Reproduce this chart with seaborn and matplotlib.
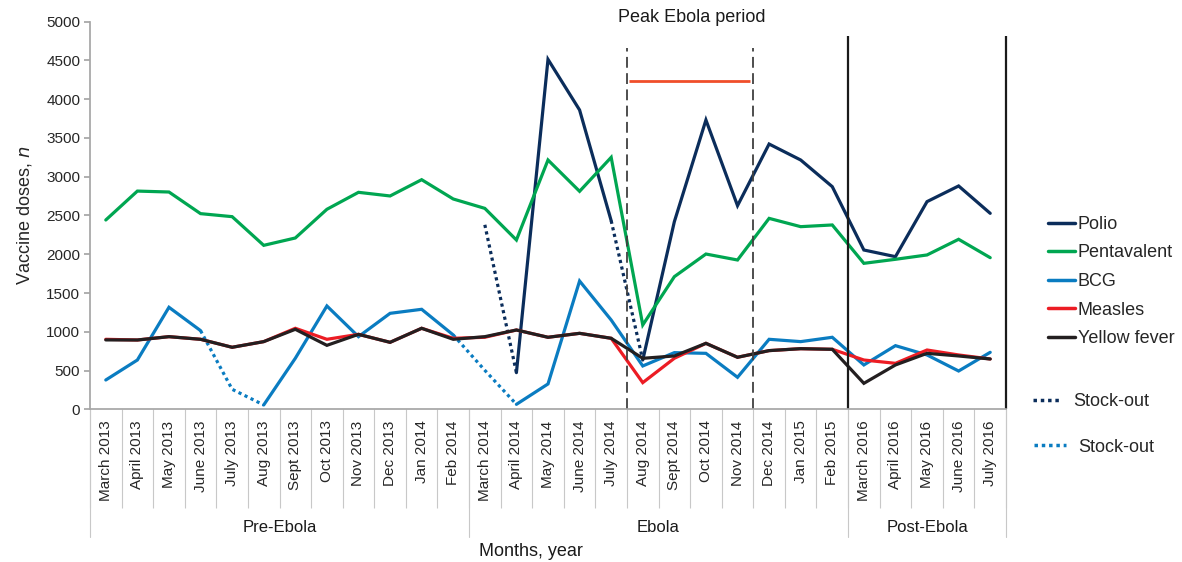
import numpy as np
import pandas as pd
import matplotlib
matplotlib.use("Agg")
import matplotlib.pyplot as plt
import seaborn as sns
from matplotlib.lines import Line2D

# Data
months = ["March 2013", "April 2013", "May 2013", "June 2013", "July 2013", "Aug 2013",
          "Sept 2013", "Oct 2013", "Nov 2013", "Dec 2013", "Jan 2014", "Feb 2014",
          "March 2014", "April 2014", "May 2014", "June 2014", "July 2014", "Aug 2014",
          "Sept 2014", "Oct 2014", "Nov 2014", "Dec 2014", "Jan 2015", "Feb 2015",
          "March 2016", "April 2016", "May 2016", "June 2016", "July 2016"]
periods = ["Pre-Ebola", "Ebola", "Post-Ebola"]
period_sizes = [12, 12, 5]

nan = np.nan
polio = [nan] * 12 + [2380, 473, 4514, 3861, 2433, 636, 2420, 3732, 2627, 3422, 3216, 2872,
                      2055, 1969, 2679, 2881, 2528]
pentavalent = [2442, 2815, 2803, 2524, 2485, 2115, 2210, 2580, 2799, 2752, 2962, 2713,
               2592, 2184, 3216, 2812, 3250, 1088, 1711, 2003, 1926, 2463, 2356, 2378,
               1883, 1935, 1991, 2193, 1956]
bcg = [378, 636, 1316, 1015, 258, 56, 658, 1333, 937, 1238, 1290, 959,
       503, 64, 327, 1655, 1152, 559, 731, 722, 413, 903, 873, 929,
       572, 821, 701, 494, 735]
measles = [903, 894, 937, 903, 800, 873, 1045, 903, 967, 864, 1045, 916,
           929, 1023, 929, 980, 916, 344, 658, 851, 671, 757, 782, 774,
           636, 593, 765, 701, 649]
yellow_fever = [895, 894, 937, 903, 800, 873, 1032, 825, 967, 864, 1045, 903,
                937, 1023, 929, 980, 916, 658, 688, 851, 671, 757, 782, 774,
                335, 572, 722, 688, 649]

# stock-out: dotted from month i to month i+1
polio_stockout = [12, 16]
bcg_stockout = [3, 4, 11, 12]

peak_level = 4235

colors = {"Polio": "#0b2d5b", "Pentavalent": "#00a651", "BCG": "#0a7cc1",
          "Measles": "#ec1c24", "Yellow fever": "#231f20"}
series = {"Polio": (polio, polio_stockout), "Pentavalent": (pentavalent, []),
          "BCG": (bcg, bcg_stockout), "Measles": (measles, []),
          "Yellow fever": (yellow_fever, [])}


def split_runs(values, dotted_from):
    # long-form frame with one unit per continuous run of same style
    rows = []
    run = 0
    prev_style = None
    for i in range(len(values) - 1):
        if np.isnan(values[i]) or np.isnan(values[i + 1]):
            continue
        style = "dotted" if i in dotted_from else "solid"
        if style != prev_style or (rows and rows[-1]["x"] != i):
            run += 1
            rows.append({"x": i, "doses": values[i], "run": run, "style": style})
        rows.append({"x": i + 1, "doses": values[i + 1], "run": run, "style": style})
        prev_style = style
    return pd.DataFrame(rows)


sns.set_theme(style="white")
plt.rcParams["font.family"] = ["Liberation Sans", "DejaVu Sans"]

fig = plt.figure(figsize=(11.82, 5.62), dpi=100)
ax = fig.add_axes([90 / 1182, 1 - 409.3 / 562, 916 / 1182, 387.6 / 562])

dots = (0, (1, 1.1))
for name, (vals, stock) in series.items():
    df = split_runs(vals, stock)
    solid = df[df["style"] == "solid"]
    dotted = df[df["style"] == "dotted"]
    if len(dotted):
        sns.lineplot(data=dotted, x="x", y="doses", units="run", estimator=None,
                     color=colors[name], linewidth=2.3, linestyle=dots,
                     ax=ax, legend=False)
    sns.lineplot(data=solid, x="x", y="doses", units="run", estimator=None,
                 color=colors[name], linewidth=2.3, ax=ax, legend=False,
                 solid_joinstyle="miter")

n = len(months)
ax.set_xlim(-0.5, n - 0.5)
ax.set_ylim(0, 5000)
ax.set_yticks(np.arange(0, 5001, 500))
ax.tick_params(axis="y", labelsize=11, length=4, color="#a6a6a6", left=True, pad=3)

# peak Ebola period markers
ax.vlines([16.5, 20.5], 0, 4660, colors="#404040", linewidth=1.3,
          linestyles=(0, (6, 3)))
ax.vlines([23.5, n - 0.5], 0, 4815, colors="#1a1a1a", linewidth=1.6, clip_on=False)
ax.hlines(peak_level, 16.55, 20.4, colors="#f04e2a", linewidth=2)
ax.text(18.55, 5060, "Peak Ebola period", ha="center", va="center", fontsize=13,
        color="#1a1a1a", clip_on=False)

# x axis: month labels in compartments
ax.set_xticks(range(n))
ax.set_xticklabels(months, rotation=90, fontsize=11, va="top")
ax.tick_params(axis="x", length=0, pad=8)
ax.set_xticks(np.arange(-0.5, n, 1), minor=True)
ax.tick_params(axis="x", which="minor", length=71, width=0.8, color="#c8c8c8",
               bottom=True, direction="out")

trans = ax.get_xaxis_transform()
bounds = np.cumsum([0] + period_sizes) - 0.5
for b in bounds:
    ax.plot([b, b], [0, -0.33], transform=trans, color="#c8c8c8", linewidth=0.8,
            clip_on=False)
for i, p in enumerate(periods):
    ax.text((bounds[i] + bounds[i + 1]) / 2, -0.304, p, transform=trans,
            ha="center", va="center", fontsize=12, color="#1a1a1a")
ax.text((n - 1) / 2 - 0.55, -0.367, "Months, year", transform=trans, ha="center",
        va="center", fontsize=13, color="#1a1a1a")

ax.set_xlabel("")
ax.set_ylabel("Vaccine doses, $\\mathit{n}$", fontsize=13, labelpad=9)
sns.despine(ax=ax)
ax.spines["left"].set_color("#a6a6a6")
ax.spines["bottom"].set_color("#a6a6a6")
ax.grid(False)

# legends
handles = [Line2D([], [], color=colors[k], linewidth=2.5) for k in colors]
fig.legend(handles, list(colors), loc="center left",
           bbox_to_anchor=(1048 / 1182, 1 - 281.5 / 562), frameon=False,
           fontsize=13, handlelength=1.5, handletextpad=0.15,
           labelspacing=0.64, borderpad=0, borderaxespad=0)
fig.legend([Line2D([], [], color=colors["Polio"], linewidth=2.5, linestyle=dots)],
           ["Stock-out"], loc="center left", bbox_to_anchor=(1033 / 1182, 1 - 402 / 562),
           frameon=False, fontsize=13, handlelength=1.5, handletextpad=0.7,
           borderpad=0, borderaxespad=0)
fig.legend([Line2D([], [], color=colors["BCG"], linewidth=2.5, linestyle=dots)],
           ["Stock-out"], loc="center left", bbox_to_anchor=(1034 / 1182, 1 - 447 / 562),
           frameon=False, fontsize=13, handlelength=1.75, handletextpad=0.7,
           borderpad=0, borderaxespad=0)

fig.savefig("out.png", dpi=100)
